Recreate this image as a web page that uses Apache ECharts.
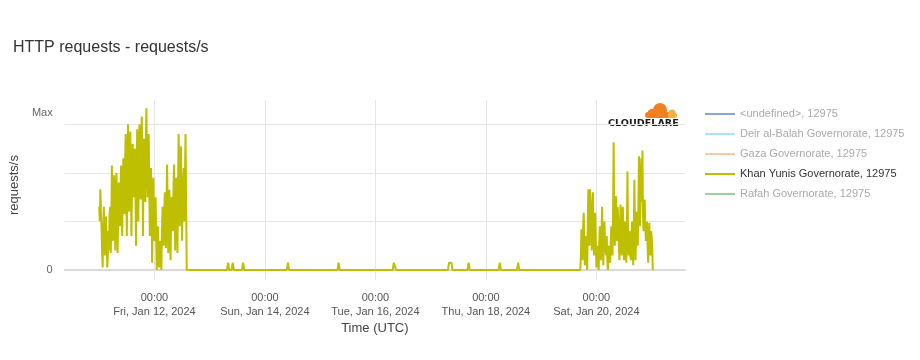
<!DOCTYPE html>
<html>
<head>
<meta charset="utf-8">
<script src="https://cdn.jsdelivr.net/npm/echarts@6/dist/echarts.min.js"></script>
<style>
html,body{margin:0;padding:0;background:#fff;}
#chart{width:920px;height:360px;}
</style>
</head>
<body>
<div id="chart"></div>
<script>
// ---- Data (unit = one gridline step, "Max" line = 3) ----
const seriesNames = [
  '<undefined>, 12975',
  'Deir al-Balah Governorate, 12975',
  'Gaza Governorate, 12975',
  'Khan Yunis Governorate, 12975',
  'Rafah Governorate, 12975'
];
const seriesColors = ['#86a5dc', '#b5e1f3', '#f8c9a2', '#bebf00', '#98d49c'];
const activeSeries = 'Khan Yunis Governorate, 12975';

const stepMinutes = 15;
const block1Start = '2024-01-11T00:00:00Z';
const block1Values = [
  1.31, 1.0, 1.66, 1.2, 0.9, 0.4, 0.05, 0.7, 1.3, 0.9,
  0.3, 0.6, 1.1, 0.5, 0.05, 0.3, 0.8, 0.4, 1.14, 1.3,
  0.35, 0.9, 2.15, 1.4, 0.6, 1.2, 1.95, 1.0, 0.4, 1.5,
  2.0, 1.3, 0.35, 1.1, 1.8, 1.4, 0.9, 1.6, 2.15, 1.2,
  0.7, 1.9, 2.3, 1.6, 1.15, 2.2, 2.8, 1.8, 0.7, 2.0,
  3.0, 2.3, 1.2, 2.1, 2.85, 1.9, 0.7, 1.7, 2.6, 2.2,
  1.5, 2.4, 2.5, 1.6, 0.5, 1.8, 2.9, 2.2, 1.0, 2.5,
  3.0, 2.1, 1.45, 2.6, 3.16, 2.4, 0.7, 1.9, 2.7, 2.2,
  1.4, 2.5, 3.33, 2.3, 1.5, 2.1, 2.8, 1.7, 0.7, 1.6,
  2.1, 1.2, 0.15, 1.1, 1.9, 1.3, 0.6, 1.0, 1.5, 0.7,
  0.0, 0.5, 0.9, 0.3, 0.05, 0.4, 0.6, 0.2, 0.0, 0.8,
  1.3, 0.9, 0.5, 1.1, 1.6, 1.0, 0.45, 1.4, 2.17, 1.2,
  0.35, 1.3, 1.65, 0.9, 0.2, 1.1, 1.5, 1.2, 0.8, 1.6,
  2.17, 1.4, 0.4, 1.5, 1.9, 1.3, 0.35, 1.7, 2.8, 2.0,
  0.9, 1.6, 2.55, 1.8, 0.6, 1.4, 1.8, 2.1, 1.0, 1.9,
  2.8, 1.6, 0
];

const quietTimes = [
  '2024-01-13T07:30:00Z', '2024-01-13T08:00:00Z', '2024-01-13T08:30:00Z',
  '2024-01-13T09:30:00Z', '2024-01-13T10:00:00Z', '2024-01-13T10:30:00Z',
  '2024-01-13T14:00:00Z', '2024-01-13T14:30:00Z', '2024-01-13T15:00:00Z',
  '2024-01-14T09:30:00Z', '2024-01-14T10:00:00Z', '2024-01-14T10:30:00Z',
  '2024-01-15T07:30:00Z', '2024-01-15T08:00:00Z', '2024-01-15T08:30:00Z',
  '2024-01-16T07:30:00Z', '2024-01-16T08:00:00Z', '2024-01-16T08:30:00Z', '2024-01-16T09:00:00Z',
  '2024-01-17T07:30:00Z', '2024-01-17T08:00:00Z', '2024-01-17T08:30:00Z', '2024-01-17T09:00:00Z', '2024-01-17T09:30:00Z',
  '2024-01-17T16:00:00Z', '2024-01-17T16:30:00Z', '2024-01-17T17:00:00Z',
  '2024-01-18T05:30:00Z', '2024-01-18T06:00:00Z', '2024-01-18T06:30:00Z',
  '2024-01-18T13:30:00Z', '2024-01-18T14:00:00Z', '2024-01-18T14:30:00Z'
];
const quietValues = [
  0, 0.15, 0,
  0, 0.15, 0,
  0, 0.15, 0,
  0, 0.15, 0,
  0, 0.15, 0,
  0, 0.15, 0.15, 0,
  0, 0.15, 0.15, 0.15, 0,
  0, 0.15, 0,
  0, 0.15, 0,
  0, 0.15, 0
];

const block2Start = '2024-01-19T17:00:00Z';
const block2Values = [
  0, 0.3, 0.84, 0.5, 0.2, 0.9, 1.18, 0.6, 0.1, 0.4,
  0.7, 0.3, 0.0, 0.9, 1.66, 1.4, 0.5, 1.66, 1.66, 1.2,
  0.4, 1.0, 1.6, 0.8, 0.3, 0.9, 1.18, 0.6, 0.05, 0.3,
  0.5, 0.2, 0.0, 0.6, 0.9, 0.5, 0.2, 0.8, 1.3, 0.7,
  0.1, 0.5, 1.0, 0.6, 0.4, 0.3, 0.7, 0.2, 0.0, 0.4,
  0.5, 0.2, 0.15, 0.6, 0.9, 0.4, 0.3, 1.2, 2.63, 1.1,
  0.5, 0.9, 1.52, 1.0, 0.6, 1.3, 1.0, 0.5, 0.2, 0.8,
  1.35, 0.7, 0.3, 1.1, 1.3, 0.6, 0.2, 0.5, 1.0, 0.4,
  0.15, 0.9, 2.03, 0.7, 0.3, 0.5, 0.8, 0.3, 0.2, 0.6,
  1.0, 0.5, 0.1, 0.8, 1.86, 0.9, 0.2, 0.7, 1.2, 1.0,
  0.5, 1.3, 2.34, 1.5, 0.9, 1.7, 2.3, 1.4, 2.46, 1.1,
  0.8, 1.2, 1.45, 0.9, 0.6, 0.7, 1.0, 0.5, 0.15, 0.6,
  0.97, 0.4, 0.3, 0.8, 0.7, 0.5, 0
];

const axisMinTime = '2024-01-10T09:00:00Z';
const axisMaxTime = '2024-01-21T14:30:00Z';
const tickTimes = ['2024-01-12T00:00:00Z', '2024-01-14T00:00:00Z', '2024-01-16T00:00:00Z', '2024-01-18T00:00:00Z', '2024-01-20T00:00:00Z'];
const tickLabels = ['00:00\nFri, Jan 12, 2024', '00:00\nSun, Jan 14, 2024', '00:00\nTue, Jan 16, 2024', '00:00\nThu, Jan 18, 2024', '00:00\nSat, Jan 20, 2024'];

// ---- Build series data ----
const STEP = stepMinutes * 60 * 1000;
const khanData = [];
const t1 = Date.parse(block1Start);
block1Values.forEach((v, i) => khanData.push([t1 + i * STEP, v]));
quietTimes.forEach((t, i) => khanData.push([Date.parse(t), quietValues[i]]));
const t2 = Date.parse(block2Start);
block2Values.forEach((v, i) => khanData.push([t2 + i * STEP, v]));

const tickVals = tickTimes.map(t => Date.parse(t));

const FONT = '"Liberation Sans", Arial, Helvetica, sans-serif';

const series = seriesNames.map((name, k) => ({
  name: name,
  type: 'line',
  showSymbol: false,
  color: seriesColors[k],
  lineStyle: { width: 2, color: seriesColors[k] },
  data: name === activeSeries ? khanData : [],
  z: name === activeSeries ? 3 : 2
}));

const chart = echarts.init(document.getElementById('chart'), null, { renderer: 'canvas' });
chart.setOption({
  animation: false,
  backgroundColor: '#ffffff',
  textStyle: { fontFamily: FONT },
  title: {
    text: 'HTTP requests - requests/s',
    left: 8,
    top: 35,
    textStyle: { fontFamily: FONT, fontSize: 16, fontWeight: 'normal', color: '#333' }
  },
  grid: { left: 62, right: 235, top: 100, bottom: 90, containLabel: false },
  legend: {
    orient: 'vertical',
    left: 700,
    top: 99,
    icon: 'rect',
    itemWidth: 30,
    itemHeight: 2,
    itemGap: 0,
    selectedMode: false,
    textStyle: { fontFamily: FONT, fontSize: 11, lineHeight: 20, color: '#aaaaaa' },
    data: seriesNames.map(n => n === activeSeries
      ? { name: n, textStyle: { color: '#333333' } }
      : { name: n })
  },
  xAxis: {
    type: 'value',
    min: Date.parse(axisMinTime),
    max: Date.parse(axisMaxTime),
    name: 'Time (UTC)',
    nameLocation: 'middle',
    nameGap: 52,
    nameTextStyle: { fontFamily: FONT, fontSize: 13, color: '#444' },
    axisLine: { show: true, lineStyle: { color: '#dadada', width: 2 } },
    axisTick: { show: true, customValues: tickVals, length: 10, lineStyle: { color: '#e6e6e6' } },
    axisLabel: {
      customValues: tickVals,
      margin: 21,
      fontFamily: FONT,
      fontSize: 11,
      lineHeight: 14,
      color: '#555',
      formatter: function (v) {
        const idx = tickVals.indexOf(v);
        return idx >= 0 ? tickLabels[idx] : '';
      }
    },
    splitLine: { show: true, lineStyle: { color: '#e6e6e6', width: 1 } }
  },
  yAxis: {
    type: 'value',
    min: 0,
    max: 3.5,
    interval: 1,
    name: 'requests/s',
    nameLocation: 'middle',
    nameGap: 34,
    nameTextStyle: { fontFamily: FONT, fontSize: 13, color: '#444' },
    axisLine: { show: false },
    axisTick: { show: false },
    axisLabel: {
      margin: 12,
      fontFamily: FONT,
      fontSize: 11,
      color: '#666',
      formatter: function (v) {
        if (v === 0) return '0';
        if (v === 3) return '{m|Max}';
        return '';
      },
      rich: { m: { fontFamily: FONT, fontSize: 11, color: '#666', padding: [0, 0, 22, 0] } }
    },
    splitLine: { show: true, showMaxLine: false, lineStyle: { color: '#e6e6e6', width: 1 } }
  },
  graphic: [
    {
      type: 'group',
      left: 645,
      top: 103,
      children: [
        { type: 'circle', shape: { cx: 16, cy: 7, r: 7 }, style: { fill: '#f38020' } },
        { type: 'circle', shape: { cx: 8, cy: 10.5, r: 4.5 }, style: { fill: '#f38020' } },
        { type: 'rect', shape: { x: 1, y: 9, width: 24, height: 6, r: [3, 0, 0, 3] }, style: { fill: '#f38020' } },
        { type: 'circle', shape: { cx: 28, cy: 10, r: 3.5 }, style: { fill: '#faae40' } },
        { type: 'rect', shape: { x: 24, y: 10, width: 9, height: 5, r: [0, 2.5, 2.5, 0] }, style: { fill: '#faae40' } }
      ]
    },
    {
      type: 'group',
      x: 608,
      y: 120,
      scaleX: 1.2,
      children: [
        { type: 'text', style: { text: 'CLOUDFLARE', x: 0, y: 0, font: 'bold 8px "DejaVu Sans", sans-serif', fill: '#1b1b1b', verticalAlign: 'top' } }
      ]
    }
  ],
  series: series
});
</script>
</body>
</html>
